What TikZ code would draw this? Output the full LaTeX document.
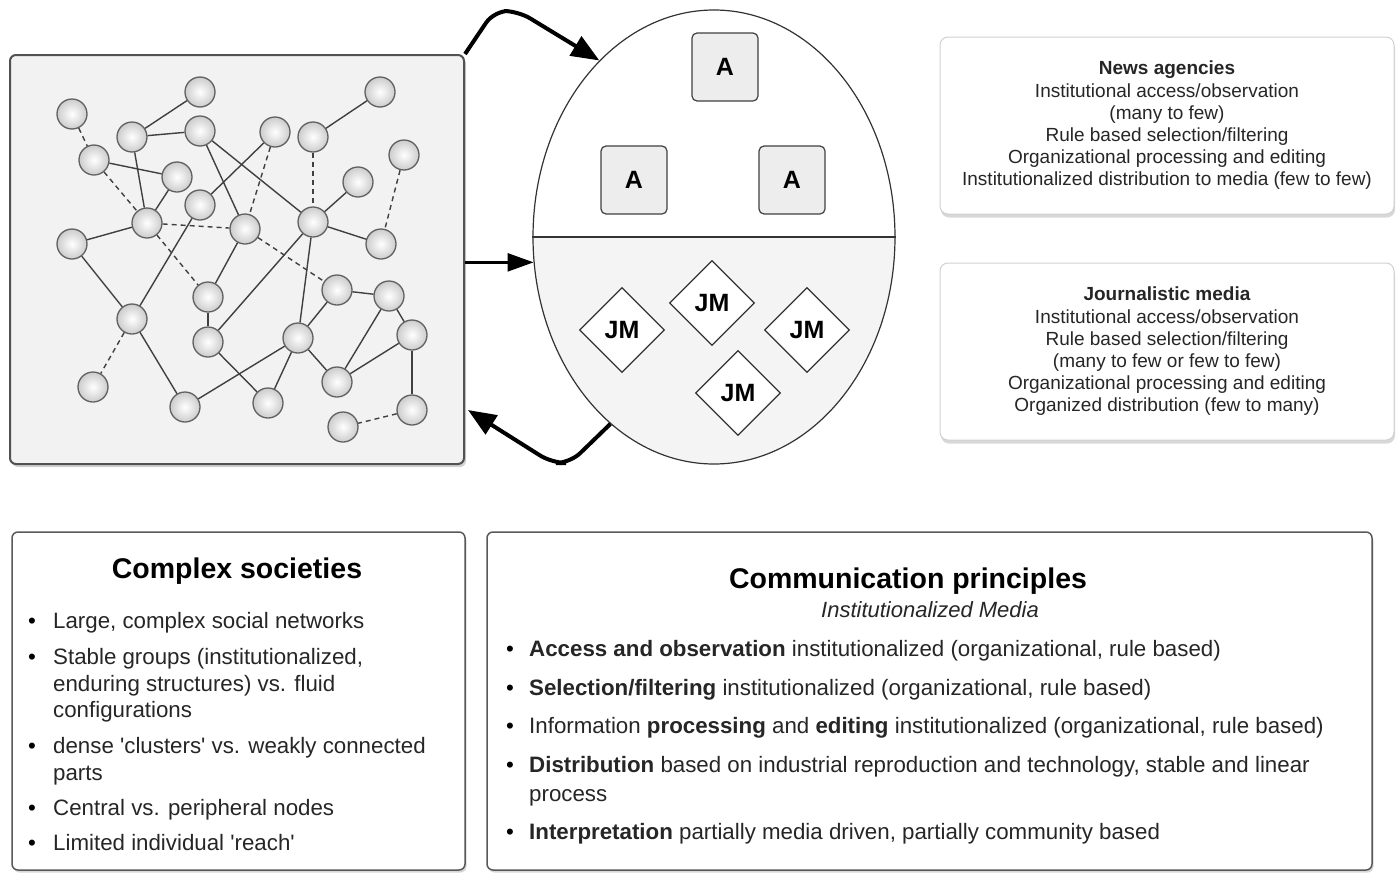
\documentclass[tikz,border=0pt]{standalone}
\usepackage{fontspec}
\setmainfont{Liberation Sans}[Ligatures=TeXOff]
\usetikzlibrary{shapes.geometric,shadows,arrows.meta,calc}
\definecolor{boxfill}{HTML}{F2F2F2}
\definecolor{lowfill}{HTML}{F4F4F4}
\definecolor{afill}{HTML}{EDEDED}
\begin{document}
\begin{tikzpicture}[x=1pt,y=-1pt,
  pnode/.style={circle,draw=black!62,line width=1.3pt,minimum size=30pt,inner sep=0pt,inner color=white,outer color=black!20},
  tie/.style={draw=black!75,line width=1.4pt},
  weak/.style={tie,dash pattern=on 5pt off 4pt},
  abox/.style={draw=black!75,line width=1.2pt,fill=afill,rounded corners=5pt,minimum width=66pt,minimum height=68pt,inner sep=0pt,font=\fontsize{25}{25}\selectfont\bfseries},
  jm/.style={diamond,aspect=1,draw=black!80,line width=1.2pt,fill=white,minimum size=85pt,inner sep=0pt,font=\fontsize{25}{25}\selectfont\bfseries},
  netbox/.style={draw=black!68,line width=2pt,fill=boxfill,rounded corners=6pt,inner sep=0pt,drop shadow={shadow xshift=2pt,shadow yshift=-3pt,opacity=0.35}},
  tbox/.style={draw=black!65,line width=1.5pt,fill=white,rounded corners=6pt,inner sep=0pt,drop shadow={shadow xshift=1.5pt,shadow yshift=-2.5pt,opacity=0.3}},
  rbox/.style={draw=black!18,line width=1pt,fill=white,rounded corners=8pt,inner sep=0pt,minimum width=454pt,minimum height=177pt,align=center,font=\fontsize{19}{22.2}\selectfont,text=black!85,drop shadow={shadow xshift=1pt,shadow yshift=-3.5pt,opacity=0.3}},
  bigarrow/.style={line width=4pt,rounded corners=14pt,-{Triangle[length=28pt,width=22pt]}},
  midarrow/.style={line width=2.6pt,-{Triangle[length=26pt,width=18pt]}},
  ttl/.style={anchor=base,inner sep=0pt,font=\fontsize{28.5}{30}\selectfont\bfseries},
  itm/.style={anchor=base west,inner sep=0pt,font=\fontsize{22.3}{27}\selectfont,text=black!85},
  bul/.style={anchor=base,inner sep=0pt,font=\fontsize{22.3}{27}\selectfont}
]
\useasboundingbox (0,0) rectangle (1400,873);
\fill[white] (0,0) rectangle (1400,873);

% ---- network box ----
\node[netbox,minimum width=454pt,minimum height=409pt] (net) at (237,259.5) {};

\node[pnode] (n1) at (72,114) {};
\node[pnode] (n2) at (200,92) {};
\node[pnode] (n3) at (380,92) {};
\node[pnode] (n4) at (132,137) {};
\node[pnode] (n5) at (200,131) {};
\node[pnode] (n6) at (275,132) {};
\node[pnode] (n7) at (313,137) {};
\node[pnode] (n8) at (94,160) {};
\node[pnode] (n9) at (177,177) {};
\node[pnode] (n10) at (404,155) {};
\node[pnode] (n11) at (358,182) {};
\node[pnode] (n12) at (200,205) {};
\node[pnode] (n13) at (147,223) {};
\node[pnode] (n14) at (245,229) {};
\node[pnode] (n15) at (313,222) {};
\node[pnode] (n16) at (72,244) {};
\node[pnode] (n17) at (381,244) {};
\node[pnode] (n18) at (208,297) {};
\node[pnode] (n19) at (337,290) {};
\node[pnode] (n20) at (389,296) {};
\node[pnode] (n21) at (132,319) {};
\node[pnode] (n22) at (208,342) {};
\node[pnode] (n23) at (298,338) {};
\node[pnode] (n24) at (412,335) {};
\node[pnode] (n25) at (337,382) {};
\node[pnode] (n26) at (93,387) {};
\node[pnode] (n27) at (185,407) {};
\node[pnode] (n28) at (268,403) {};
\node[pnode] (n29) at (412,410) {};
\node[pnode] (n30) at (343,427) {};

\foreach \a/\b in {n2/n4,n4/n5,n4/n13,n8/n9,n9/n13,n5/n14,n5/n15,n12/n6,n13/n16,n12/n21,
  n16/n21,n21/n27,n18/n22,n18/n14,n27/n23,n22/n28,n23/n28,n22/n15,n23/n15,n15/n17,
  n15/n11,n3/n7,n19/n20,n19/n23,n20/n25,n20/n24,n24/n25,n23/n25,n24/n29}
  \draw[tie] (\a) -- (\b);
\foreach \a/\b in {n1/n8,n8/n13,n13/n14,n13/n18,n6/n14,n7/n15,n10/n17,n14/n19,n21/n26,n29/n30}
  \draw[weak] (\a) -- (\b);

% ---- ellipse ----
\begin{scope}
  \clip (714,237) ellipse [x radius=181, y radius=227];
  \fill[white] (520,0) rectangle (910,237);
  \fill[lowfill] (520,237) rectangle (910,480);
\end{scope}
\node[ellipse,draw=black!80,line width=1.2pt,minimum width=362pt,minimum height=454pt,inner sep=0pt] (ell) at (714,237) {};
\draw[black!80,line width=1.2pt] (ell.west) -- (ell.east);

\node[abox] (a1) at (725,67) {A};
\node[abox] (a2) at (634,180) {A};
\node[abox] (a3) at (792,180) {A};

\node[jm] (j1) at (622,330) {JM};
\node[jm] (j2) at (712,303) {JM};
\node[jm] (j3) at (807,330) {JM};
\node[jm] (j4) at (738,393) {JM};

% ---- arrows ----
\draw[bigarrow] (net.north east) -- (494,11) -- (518,11) -- (ell.123);
\draw[midarrow] (net.east |- ell.188) -- (ell.188);
\coordinate (btip) at (468,410);
\draw[bigarrow] (ell.241) -- (570,463) -- (552,463) -- (btip);

% ---- right boxes ----
\node[rbox] (na) at (1167,125.5) {\textbf{News agencies}\\Institutional access/observation\\(many to few)\\Rule based selection/filtering\\Organizational processing and editing\\Institutionalized distribution to media (few to few)};
\node[rbox] (jmb) at (1167,351.5) {\textbf{Journalistic media}\\Institutional access/observation\\Rule based selection/filtering\\(many to few or few to few)\\Organizational processing and editing\\Organized distribution (few to many)};

% ---- bottom left box ----
\node[tbox,minimum width=453pt,minimum height=338pt] (cs) at (238.5,701) {};
\node[ttl] (cst) at (237,578) {Complex societies};
\node[bul] (cb1) at (32,628) {\textbullet};
\node[itm] (c1) at (53,628) {Large, complex social networks};
\node[bul] (cb2) at (32,664) {\textbullet};
\node[itm] (c2a) at (53,664) {Stable groups (institutionalized,};
\node[itm] (c2b) at (53,691) {enduring structures) vs. fluid};
\node[itm] (c2c) at (53,717) {configurations};
\node[bul] (cb3) at (32,753) {\textbullet};
\node[itm] (c3a) at (53,753) {dense 'clusters' vs. weakly connected};
\node[itm] (c3b) at (53,780) {parts};
\node[bul] (cb4) at (32,815) {\textbullet};
\node[itm] (c4) at (53,815) {Central vs. peripheral nodes};
\node[bul] (cb5) at (32,850) {\textbullet};
\node[itm] (c5) at (53,850) {Limited individual 'reach'};

% ---- bottom right box ----
\node[tbox,minimum width=885pt,minimum height=338pt] (cp) at (929.5,701) {};
\node[ttl] (cpt) at (908,588) {Communication principles};
\node[anchor=base,inner sep=0pt,font=\fontsize{22}{24}\selectfont\itshape,text=black!85] (cps) at (930,617) {Institutionalized Media};
\node[bul] (pb1) at (510,656) {\textbullet};
\node[itm] (p1) at (529,656) {\textbf{Access and observation} institutionalized (organizational, rule based)};
\node[bul] (pb2) at (510,695) {\textbullet};
\node[itm] (p2) at (529,695) {\textbf{Selection/filtering} institutionalized (organizational, rule based)};
\node[bul] (pb3) at (510,733) {\textbullet};
\node[itm] (p3) at (529,733) {Information \textbf{processing} and \textbf{editing} institutionalized (organizational, rule based)};
\node[bul] (pb4) at (510,772) {\textbullet};
\node[itm] (p4a) at (529,772) {\textbf{Distribution} based on industrial reproduction and technology, stable and linear};
\node[itm] (p4b) at (529,801) {process};
\node[bul] (pb5) at (510,839) {\textbullet};
\node[itm] (p5) at (529,839) {\textbf{Interpretation} partially media driven, partially community based};
\end{tikzpicture}
\end{document}
